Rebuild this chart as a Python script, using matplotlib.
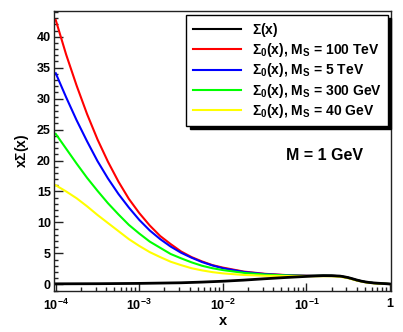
import numpy as np
import matplotlib
matplotlib.use("Agg")
import matplotlib.pyplot as plt
from matplotlib.ticker import FixedLocator, FuncFormatter, LogLocator, MultipleLocator, NullFormatter

# --- data (log10 x and x*Sigma(x)) ------------------------------------------
LOG_X = [-4.0, -3.875, -3.75, -3.625, -3.5, -3.375, -3.25, -3.125, -3.0,
         -2.875, -2.75, -2.625, -2.5, -2.375, -2.25, -2.125, -2.0,
         -1.75, -1.5, -1.25, -1.0,
         -0.9, -0.8, -0.7, -0.6, -0.5, -0.4, -0.3, -0.2, -0.1, 0.0]

SIGMA0_100TEV = [42.7, 37.1, 32.1, 27.5, 23.4, 19.8, 16.6, 13.8, 11.5,
                 9.5, 7.8, 6.5, 5.3, 4.4, 3.7, 3.1, 2.7,
                 2.06, 1.70, 1.50, 1.40,
                 1.37, 1.39, 1.38, 1.31, 1.06, 0.67, 0.38, 0.21, 0.13, 0.05]
SIGMA0_5TEV = [34.1, 30.2, 26.5, 23.1, 19.9, 17.1, 14.6, 12.4, 10.4,
               8.7, 7.3, 6.1, 5.1, 4.3, 3.6, 3.05, 2.6,
               2.0, 1.66, 1.47, 1.38,
               1.37, 1.39, 1.38, 1.31, 1.06, 0.67, 0.38, 0.21, 0.13, 0.05]
SIGMA0_300GEV = [24.3, 21.9, 19.5, 17.2, 15.1, 13.1, 11.3, 9.6, 8.2,
                 6.9, 5.9, 4.9, 4.2, 3.55, 3.0, 2.6, 2.3,
                 1.85, 1.58, 1.44, 1.36,
                 1.37, 1.39, 1.38, 1.31, 1.06, 0.67, 0.38, 0.21, 0.13, 0.05]
SIGMA0_40GEV = [16.0, 15.0, 13.9, 12.6, 11.2, 9.9, 8.6, 7.3, 6.2,
                5.2, 4.4, 3.65, 3.1, 2.6, 2.25, 1.97, 1.77,
                1.51, 1.39, 1.34, 1.31,
                1.30, 1.31, 1.30, 1.23, 0.99, 0.61, 0.33, 0.17, 0.11, 0.04]

LOG_X_SIGMA = [-4.0, -3.5, -3.0, -2.5, -2.25, -2.0, -1.75, -1.5, -1.25, -1.0,
               -0.9, -0.8, -0.7, -0.6, -0.55, -0.5, -0.45, -0.4, -0.35, -0.3,
               -0.25, -0.2, -0.15, -0.1, -0.05, 0.0]
SIGMA = [0.08, 0.10, 0.15, 0.25, 0.36, 0.50, 0.68, 0.90, 1.10, 1.28,
         1.35, 1.40, 1.39, 1.33, 1.22, 1.08, 0.90, 0.70, 0.53, 0.40,
         0.30, 0.23, 0.18, 0.14, 0.10, 0.05]

CURVES = [
    (SIGMA0_100TEV, "#ff0000", r"$\mathrm{\Sigma_0}$(x), M$_S$ = 100 TeV"),
    (SIGMA0_5TEV, "#0000ff", r"$\mathrm{\Sigma_0}$(x), M$_S$ = 5 TeV"),
    (SIGMA0_300GEV, "#00ff00", r"$\mathrm{\Sigma_0}$(x), M$_S$ = 300 GeV"),
    (SIGMA0_40GEV, "#ffff00", r"$\mathrm{\Sigma_0}$(x), M$_S$ = 40 GeV"),
]

plt.rcParams["font.family"] = ["Liberation Sans", "DejaVu Sans"]
plt.rcParams["font.weight"] = "bold"
plt.rcParams["mathtext.fontset"] = "custom"
plt.rcParams["mathtext.rm"] = "Liberation Sans:bold"
plt.rcParams["mathtext.it"] = "Liberation Sans:bold"
plt.rcParams["mathtext.bf"] = "Liberation Sans:bold"

W, H = 403, 332
fig = plt.figure(figsize=(W / 100, H / 100), dpi=100)
ax = fig.add_axes([54.3 / W, 1 - 290.7 / H, (391.5 - 54.3) / W, (290.7 - 11) / H])

x = np.power(10.0, LOG_X)
handles = []
for values, color, label in CURVES:
    (h,) = ax.plot(x, values, color=color, linewidth=1.5, label=label)
    handles.append(h)
(hs,) = ax.plot(np.power(10.0, LOG_X_SIGMA), SIGMA, color="black",
                linewidth=2.0, label=r"$\mathrm{\Sigma}$(x)")
handles.insert(0, hs)

ax.set_xscale("log")
ax.set_xlim(10 ** -4.017, 10 ** 0.017)
ax.set_ylim(-1.03, 44.15)

ax.yaxis.set_major_locator(MultipleLocator(5))
ax.yaxis.set_minor_locator(MultipleLocator(1))
ax.xaxis.set_major_locator(FixedLocator([1e-4, 1e-3, 1e-2, 1e-1, 1]))
ax.xaxis.set_minor_locator(LogLocator(base=10, subs=np.arange(2, 10)))
ax.xaxis.set_minor_formatter(NullFormatter())


def _fmt(v, _pos):
    if abs(v - 1) < 1e-9:
        return "1"
    return r"$10^{%d}$" % int(round(np.log10(v)))


ax.xaxis.set_major_formatter(FuncFormatter(_fmt))
ax.tick_params(which="both", direction="in", top=False, right=False,
               width=1.0, colors="#222222", labelcolor="black", labelsize=9)
ax.tick_params(axis="y", which="major", length=6.5, pad=2.5)
ax.tick_params(axis="y", which="minor", length=3.2)
ax.tick_params(axis="x", which="major", length=5.5, pad=5)
ax.tick_params(axis="x", which="minor", length=3.0)
for s in ax.spines.values():
    s.set_linewidth(1.0)
    s.set_color("#222222")

ax.set_xlabel("x", fontsize=10.5, fontweight="bold")
ax.xaxis.set_label_coords((223 - 54.3) / (391.5 - 54.3), -0.083)
ax.set_ylabel(r"x$\mathrm{\Sigma}$(x)", fontsize=10, fontweight="bold")
ax.yaxis.set_label_coords(-0.068, 0.5)

fig.text(325 / W, 1 - 155 / H, "M = 1 GeV", fontsize=11.5, fontweight="bold",
         ha="center", va="center")

leg = ax.legend(handles=handles, loc="upper right",
                bbox_to_anchor=(388 / W, 1 - 15 / H), bbox_transform=fig.transFigure,
                fontsize=10, frameon=True, fancybox=False, borderaxespad=0,
                handlelength=3.5, handletextpad=0.75, labelspacing=0.15,
                borderpad=0.45,
                shadow={"ox": 2.5, "oy": -2.5, "color": "black", "alpha": 1})
leg.get_frame().set_edgecolor("black")
leg.get_frame().set_linewidth(1.0)
for line in leg.get_lines():
    line.set_linewidth(1.5)

fig.savefig("out.png", dpi=100)
